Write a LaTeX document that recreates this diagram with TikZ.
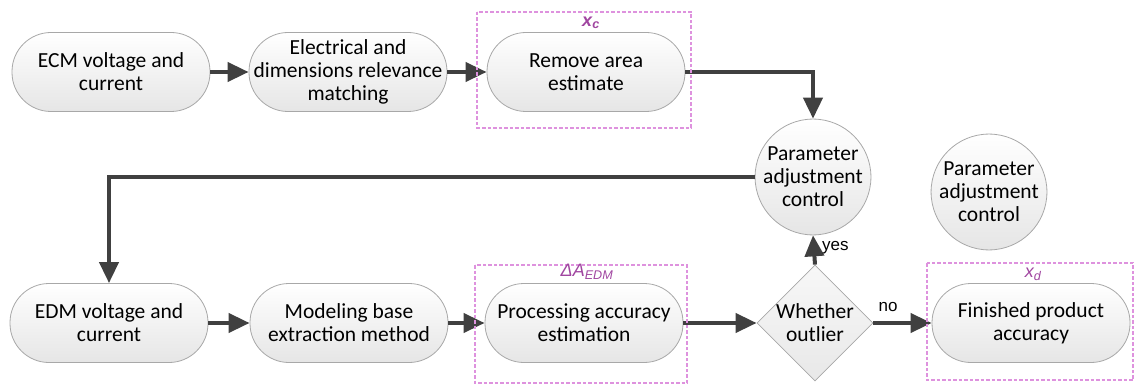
\documentclass[tikz,border=0pt]{standalone}
\usepackage{fontspec}
\setmainfont{Carlito}
\newfontfamily\labelfont{Liberation Sans}
\usetikzlibrary{arrows.meta,shapes.geometric}
\definecolor{edge}{HTML}{404040}
\definecolor{rim}{HTML}{A8A8A8}
\definecolor{frame}{HTML}{DE92DE}
\definecolor{tag}{HTML}{A046A0}
\begin{document}
\begin{tikzpicture}[x=1pt,y=-1pt,
  stadium/.style={draw=rim, line width=0.8pt, rounded corners=39pt,
    minimum width=198pt, minimum height=79pt, inner sep=0pt,
    top color=white, bottom color=gray!20, align=center,
    font=\fontsize{21.5}{23}\selectfont},
  ctrl/.style={circle, draw=rim, line width=0.8pt, minimum size=110pt,
    inner sep=0pt, top color=white, bottom color=gray!20, align=center,
    font=\fontsize{21.5}{23}\selectfont},
  decide/.style={diamond, aspect=1, draw=rim, line width=0.8pt,
    minimum width=116pt, minimum height=116pt, inner sep=0pt,
    top color=gray!6, bottom color=gray!18, align=center,
    font=\fontsize{21.5}{23}\selectfont},
  flow/.style={draw=edge, line width=4pt,
    -{Triangle[length=21pt,width=19pt]}},
  group/.style={draw=frame, line width=1.4pt, dash pattern=on 3.5pt off 2pt},
  tagtext/.style={text=tag, font=\labelfont\fontsize{18}{20}\selectfont\itshape, inner sep=0pt},
  cond/.style={font=\labelfont\fontsize{17}{19}\selectfont, inner sep=0pt}
]
\useasboundingbox (0,0) rectangle (1135,385);

% upper chain
\node[stadium] (ecm) at (111,72) {ECM voltage and\\current};
\node[stadium] (rel) at (348,72) {Electrical and\\dimensions relevance\\matching};
\node[stadium] (rem) at (586,72) {Remove area\\estimate};

% control loop
\node[ctrl] (pac) at (813,177) {Parameter\\adjustment\\control};
\node[ctrl] (pac2) at (989,192) {Parameter\\adjustment\\control};

% lower chain
\node[stadium] (edm) at (109,323) {EDM voltage and\\current};
\node[stadium] (mod) at (349,323) {Modeling base\\extraction method};
\node[stadium] (pro) at (584,323) {Processing accuracy\\estimation};
\node[decide] (out) at (815,323) {Whether\\outlier};
\node[stadium] (fin) at (1031,323) {Finished product\\accuracy};

% connectors
\draw[flow] (ecm) -- (rel);
\draw[flow] (rel) -- (rem);
\draw[flow] (rem.east) -| (pac.north);
\draw[flow] (pac.west) -| (edm.north);
\draw[flow] (edm) -- (mod);
\draw[flow] (mod) -- (pro);
\draw[flow] (pro) -- (out);
\draw[flow] (out.north) -- (pac.south);
\draw[flow] (out.east) -- (fin.west);

\node[cond, anchor=west] (yes) at (822,248) {yes};
\node[cond] (no) at (888,307) {no};

% variable groups
\draw[group] (477,12) rectangle (691,128);
\draw[group] (475,265) rectangle (687,383);
\draw[group] (927,263) rectangle (1133,380);
\node[tagtext] (tc) at (591,23) {\bfseries x\textsubscript{c}};
\node[tagtext] (ta) at (587,272) {ΔA\textsubscript{EDM}};
\node[tagtext] (td) at (1033,274) {x\textsubscript{d}};
\end{tikzpicture}
\end{document}
